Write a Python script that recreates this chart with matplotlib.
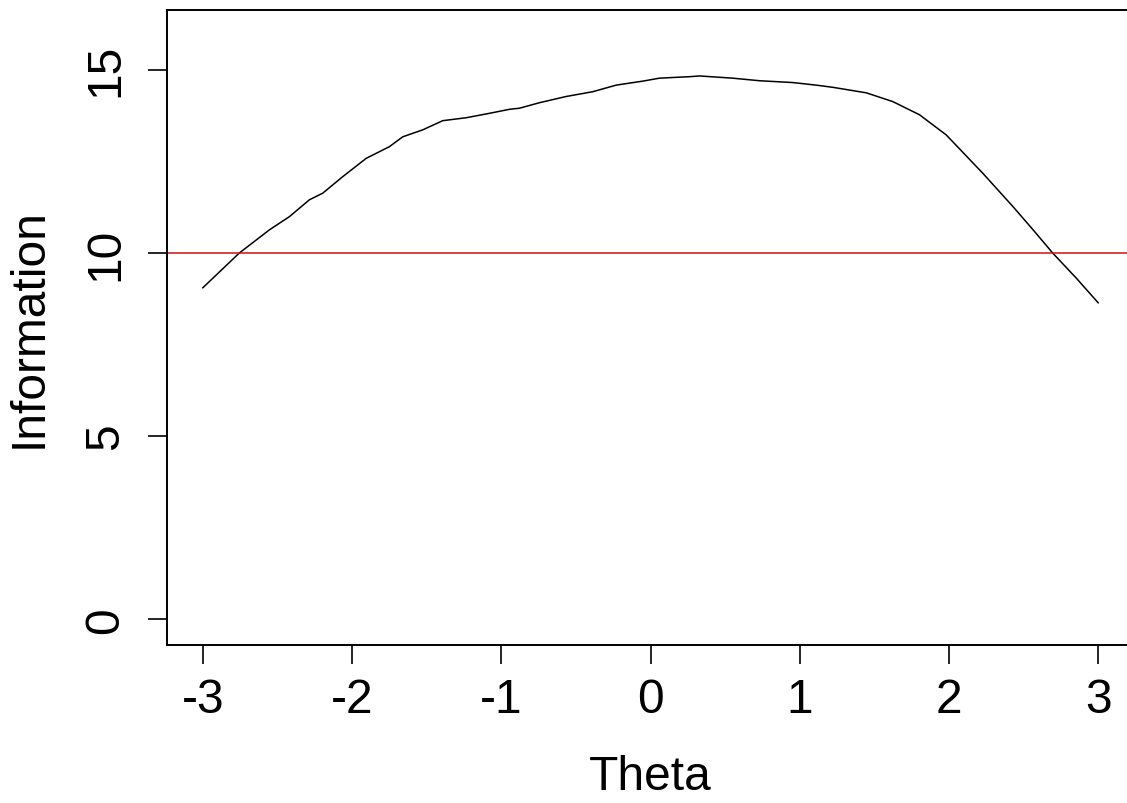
import matplotlib
matplotlib.use("Agg")
import matplotlib.pyplot as plt

theta = [-3.0, -2.755, -2.554, -2.42, -2.286, -2.197, -2.063, -1.906, -1.75, -1.66,
         -1.526, -1.392, -1.235, -1.08, -0.945, -0.878, -0.744, -0.565, -0.387, -0.23,
         -0.05, 0.06, 0.26, 0.33, 0.55, 0.73, 0.954, 1.11, 1.222, 1.446, 1.624,
         1.803, 1.982, 2.228, 2.43, 2.564, 2.697, 2.854, 3.0]
information = [9.05, 10.0, 10.63, 10.99, 11.45, 11.63, 12.08, 12.58, 12.9, 13.17,
               13.36, 13.61, 13.69, 13.81, 13.92, 13.95, 14.10, 14.27, 14.40, 14.58,
               14.69, 14.77, 14.81, 14.83, 14.77, 14.70, 14.65, 14.58, 14.52, 14.37, 14.13,
               13.77, 13.22, 12.17, 11.26, 10.63, 9.99, 9.31, 8.64]
ref_level = 10
x_ticks = [-3, -2, -1, 0, 1, 2, 3]
y_ticks = [0, 5, 10, 15]

plt.rcParams['font.family'] = ['Liberation Sans', 'DejaVu Sans']

W, H = 1127, 804
fig = plt.figure(figsize=(W / 100, H / 100), dpi=100)
left, right, top, bottom = 167, 1134, 11, 645.7
ax = fig.add_axes([left / W, 1 - bottom / H, (right - left) / W, (bottom - top) / H])

ax.plot(theta, information, color='black', lw=1.1)
ax.axhline(ref_level, color='#cc1111', lw=1.1)

ax.set_xlim(-3.24, 3.24)
ax.set_ylim(-0.69, 16.63)
ax.set_xticks(x_ticks)
ax.set_xticklabels([str(v) for v in x_ticks])
ax.set_yticks(y_ticks)
ax.set_yticklabels([str(v) for v in y_ticks], rotation=90, va='center')

fs = 34.5
ax.tick_params(axis='both', direction='out', length=13.5, width=1.2, labelsize=fs, color='black')
ax.tick_params(axis='x', pad=10)
ax.tick_params(axis='y', pad=14.5)
for s in ax.spines.values():
    s.set_linewidth(1.4)

ax.set_xlabel('Theta', fontsize=fs, labelpad=23)
ax.set_ylabel('Information', fontsize=fs, labelpad=23)

fig.savefig('out.png', dpi=100)
